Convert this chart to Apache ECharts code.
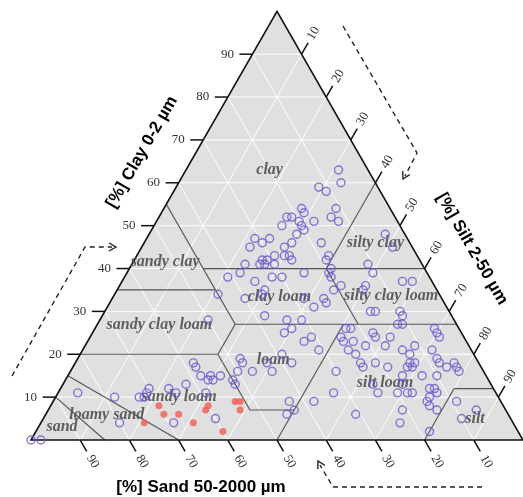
<!DOCTYPE html>
<html>
<head>
<meta charset="utf-8">
<script src="https://cdn.jsdelivr.net/npm/echarts@6/dist/echarts.min.js"></script>
<style>
  html, body { margin: 0; padding: 0; background: #ffffff; }
  #main { width: 523px; height: 497px; }
</style>
</head>
<body>
<div id="main"></div>
<script>
// Tick values printed along every side of the triangle
const tickValues = [10, 20, 30, 40, 50, 60, 70, 80, 90];

// Samples drawn as open circles (percent sand / silt / clay)
const blueSand = [100,98,85,78,80,73,72,71,70,66,65,69,62,58,58,58,57,56,56,54,59,60,50,45,41,52,52,48,48,50,47,36,38,36,40,38,43,43,39,38,43,45,43,38,33,30,34,31,34,36,31,33,31,25,25,36,35,28,24,24,27,21,32,30,25,19,18,19,20,20,33,32,31,30,32,29,27,26,26,33,31,30,28,26,24,18,22,20,24,17,13,12,20,20,22,21,18,18,11,12,11,6,7,4,4,11,11,19,15,14,6,4,16,15,10,10,12,11,23,22,18,18,15,5,5,5,23,25,24,21,17,11,14,13,8,24,24,21,19,14,13,15,14,8,8,7,5,5,5,10,13,17,24,24,20,18,17,18,13,12,12,14,15,15,14,9,6,10,21,23,31,18];
const blueSilt = [0,2,4,12,16,17,18,18,18,22,24,27,25,25,24,27,29,30,29,31,30,35,22,21,21,34,35,33,34,34,37,23,23,27,27,33,39,41,41,44,48,49,50,53,56,54,38,41,40,39,45,44,48,51,52,30,30,39,43,44,42,44,30,32,36,39,39,41,41,42,26,26,27,29,27,28,30,31,32,22,22,24,25,29,30,36,30,31,26,32,35,37,30,29,26,27,28,29,35,29,31,31,33,48,51,48,50,45,50,50,57,59,54,55,60,61,61,62,51,52,57,58,61,69,70,71,54,54,56,57,61,67,65,67,71,58,59,61,64,68,69,68,69,73,74,76,77,78,79,75,72,68,63,65,69,71,72,69,75,76,77,76,76,77,79,82,87,85,72,73,63,80];
const blueClay = [0,0,11,10,4,10,10,11,12,12,11,4,13,17,18,15,14,14,15,15,11,5,28,34,38,14,13,19,18,16,16,41,39,37,33,29,18,16,20,18,9,6,7,9,11,16,28,28,26,25,24,23,21,24,23,34,35,33,33,32,31,35,38,38,39,42,43,40,39,38,41,42,42,41,41,43,43,43,42,45,47,46,47,45,46,46,48,49,50,51,52,51,50,51,52,52,54,53,54,59,58,63,60,48,45,41,39,36,35,36,37,37,30,30,30,29,27,27,26,26,25,24,24,26,25,24,23,21,20,22,22,22,21,20,21,18,17,18,17,18,18,17,17,19,18,17,18,17,16,15,15,15,13,11,11,11,11,13,12,12,11,10,9,8,7,9,7,5,7,4,6,2];

// Samples drawn as filled red dots
const redSand = [75,70,70,67,65,60,61,60,54,53,54];
const redSilt = [21,22,24,27,31,32,32,38,37,38,39];
const redClay = [4,8,6,6,4,8,7,2,9,9,7];

// USDA texture classes and where their names sit
const classNames = ['clay','silty clay','sandy clay','clay loam','silty clay loam','sandy clay loam','loam','silt loam','sandy loam','loamy sand','sand','silt'];
const classSand  = [20, 7, 52, 32.8, 10, 60.5, 41.4, 21.4, 64.9, 81.7, 92.2, 7.3];
const classSilt  = [17, 47, 6.5, 33.8, 56.4, 12.7, 39.9, 65.3, 25.1, 12.5, 4.8, 87.8];
const classClay  = [63, 46, 41.5, 33.4, 33.6, 26.8, 18.7, 13.3, 10, 5.8, 3, 4.9];

// Class boundary segments, end points given as [sand, silt, clay]
const boundaries = [
  [[45, 0, 55], [45, 20, 35]],
  [[45, 15, 40], [0, 60, 40]],
  [[0, 40, 60], [20, 40, 40]],
  [[20, 40, 40], [20, 53, 27]],
  [[45, 28, 27], [0, 73, 27]],
  [[65, 0, 35], [45, 20, 35]],
  [[45, 20, 35], [45, 28, 27]],
  [[45, 28, 27], [52, 28, 20]],
  [[52, 28, 20], [80, 0, 20]],
  [[52, 28, 20], [52, 41, 7]],
  [[52, 41, 7], [43, 50, 7]],
  [[23, 50, 27], [50, 50, 0]],
  [[85, 0, 15], [70, 30, 0]],
  [[90, 0, 10], [85, 15, 0]],
  [[8, 80, 12], [0, 88, 12]],
  [[8, 80, 12], [20, 80, 0]]
];

const H = Math.sqrt(3) / 2;
// ternary composition -> plane coordinates (silt to the right, clay upward)
function toXY(sand, silt, clay) {
  return [silt + clay / 2, clay * H];
}

function lineEl(a, b, stroke, width) {
  return { type: 'line', shape: { x1: a[0], y1: a[1], x2: b[0], y2: b[1] },
           style: { stroke: stroke, lineWidth: width } };
}
function textEl(x, y, text, font, fill, rotation) {
  return { type: 'text', x: x, y: y, rotation: rotation || 0,
           style: { text: text, font: font, fill: fill,
                    align: 'center', verticalAlign: 'middle',
                    textAlign: 'center', textVerticalAlign: 'middle' } };
}

// Background, grid, class borders, outline, ticks and tick labels
function renderFrame(params, api) {
  const P = (s, si, c) => api.coord(toXY(s, si, c));
  const kids = [];
  kids.push({ type: 'polygon', shape: { points: [P(100, 0, 0), P(0, 100, 0), P(0, 0, 100)] },
              style: { fill: '#e0e0e0' } });
  tickValues.forEach(v => {
    kids.push(lineEl(P(100 - v, 0, v), P(0, 100 - v, v), '#ffffff', 1));
    kids.push(lineEl(P(100 - v, v, 0), P(0, v, 100 - v), '#ffffff', 1));
    kids.push(lineEl(P(v, 100 - v, 0), P(v, 0, 100 - v), '#ffffff', 1));
  });
  boundaries.forEach(seg => {
    kids.push(lineEl(P(...seg[0]), P(...seg[1]), '#555555', 1.2));
  });
  kids.push({ type: 'polygon', shape: { points: [P(100, 0, 0), P(0, 100, 0), P(0, 0, 100)] },
              style: { fill: 'none', stroke: '#111111', lineWidth: 1.6 } });

  const tickFont = '13px "Liberation Serif"';
  const up = [0.5, -H], down = [0.5, H];
  tickValues.forEach(v => {
    // clay, left side
    const a = P(100 - v, 0, v);
    kids.push(lineEl(a, [a[0] - 13, a[1]], '#111111', 1.5));
    kids.push(textEl(a[0] - 25, a[1], String(v), tickFont, '#333333', 0));
    // silt, right side
    const b = P(0, v, 100 - v);
    kids.push(lineEl(b, [b[0] + 13 * up[0], b[1] + 13 * up[1]], '#111111', 1.5));
    kids.push(textEl(b[0] + 24 * up[0], b[1] + 24 * up[1], String(v), tickFont, '#333333', Math.PI / 3));
    // sand, bottom side
    const c = P(v, 100 - v, 0);
    kids.push(lineEl(c, [c[0] + 13 * down[0], c[1] + 13 * down[1]], '#111111', 1.5));
    kids.push(textEl(c[0] + 25 * down[0], c[1] + 25 * down[1], String(v), tickFont, '#333333', -Math.PI / 3));
  });
  return { type: 'group', children: kids };
}

function renderClassName(params, api) {
  const i = params.dataIndex;
  const p = api.coord(toXY(classSand[i], classSilt[i], classClay[i]));
  return textEl(p[0], p[1], classNames[i], 'italic bold 16px "Liberation Serif"', 'rgba(80,80,80,0.9)', 0);
}

const blueData = blueSand.map((s, i) => toXY(s, blueSilt[i], blueClay[i]));
const redData = redSand.map((s, i) => toXY(s, redSilt[i], redClay[i]));

const chart = echarts.init(document.getElementById('main'), null, { renderer: 'canvas' });

const dash = { stroke: '#222222', lineWidth: 1.4, lineDash: [5, 4], fill: 'none' };
const solid = { stroke: '#222222', lineWidth: 1.4, fill: 'none' };
const titleFont = 'bold 17px "Liberation Sans"';

chart.setOption({
  animation: false,
  backgroundColor: '#ffffff',
  grid: { left: 31, top: 440 - 495 * H, width: 495, height: 495 * H },
  xAxis: { type: 'value', min: 0, max: 100, show: false },
  yAxis: { type: 'value', min: 0, max: 100 * H, show: false },
  series: [
    { type: 'custom', data: [[0, 0]], renderItem: renderFrame, silent: true, clip: false, z: 1 },
    { type: 'custom', data: classNames.map((n, i) => [i, i]), renderItem: renderClassName, silent: true, clip: false, z: 2 },
    { type: 'scatter', data: blueData, symbol: 'circle', symbolSize: 8, z: 3,
      itemStyle: { color: 'transparent', borderColor: '#6a58d0', borderWidth: 1.4 } },
    { type: 'scatter', data: redData, symbol: 'circle', symbolSize: 7, z: 4,
      itemStyle: { color: '#f25c52' } }
  ],
  graphic: [
    { type: 'text', x: 142, y: 152, rotation: Math.PI / 3,
      style: { text: '[%] Clay 0-2 µm', font: titleFont, fill: '#000', textAlign: 'center', textVerticalAlign: 'middle', align: 'center', verticalAlign: 'middle' } },
    { type: 'text', x: 472, y: 249, rotation: -Math.PI / 3,
      style: { text: '[%] Silt 2-50 µm', font: titleFont, fill: '#000', textAlign: 'center', textVerticalAlign: 'middle', align: 'center', verticalAlign: 'middle' } },
    { type: 'text', x: 201, y: 487,
      style: { text: '[%] Sand 50-2000 µm', font: titleFont, fill: '#000', textAlign: 'center', textVerticalAlign: 'middle', align: 'center', verticalAlign: 'middle' } },
    { type: 'polyline', shape: { points: [[12, 376], [85, 247], [112, 247]] }, style: dash },
    { type: 'polyline', shape: { points: [[109, 243], [116, 247], [109, 251]] }, style: solid },
    { type: 'polyline', shape: { points: [[343, 26], [417, 153], [405, 176]] }, style: dash },
    { type: 'polyline', shape: { points: [[409.7, 174.6], [403, 179], [402.7, 171]] }, style: solid },
    { type: 'polyline', shape: { points: [[482, 487], [333, 487], [320, 465]] }, style: dash },
    { type: 'polyline', shape: { points: [[324.8, 465.3], [318, 461], [317.8, 469.1]] }, style: solid }
  ]
});
</script>
</body>
</html>
